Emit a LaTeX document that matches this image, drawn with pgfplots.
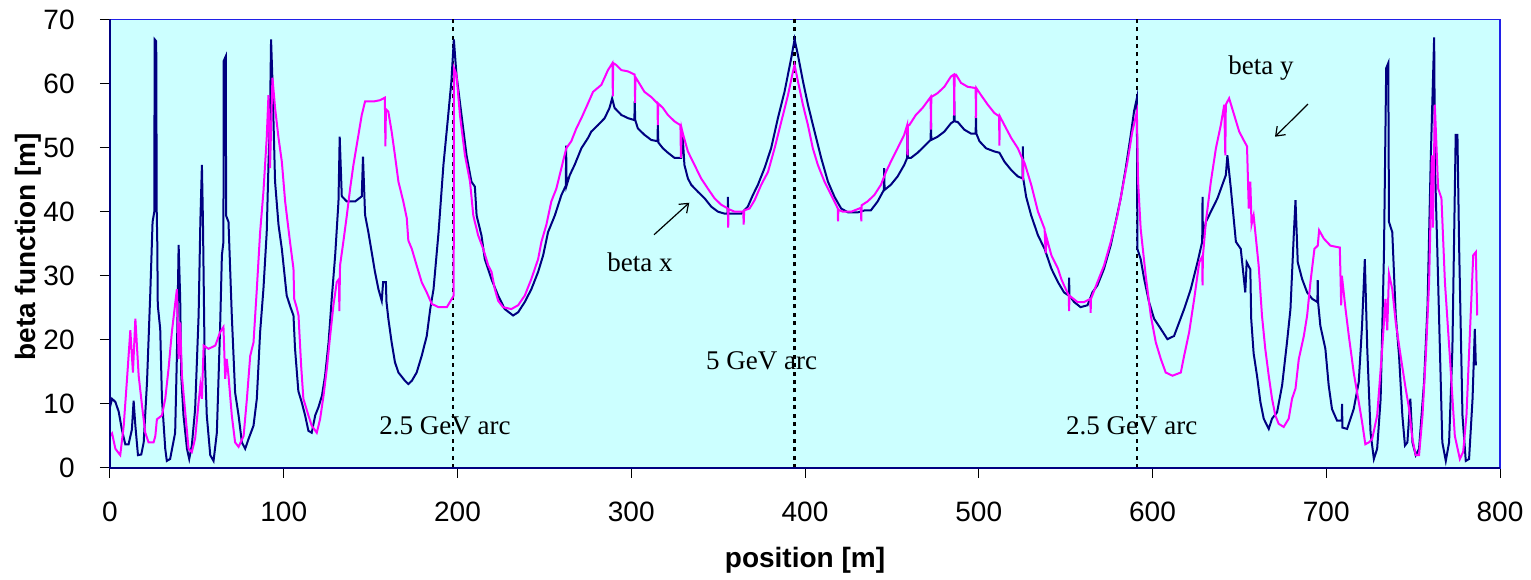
\documentclass[border=0pt]{standalone}
\usepackage{fontspec}
\setmainfont{Liberation Sans}
\newfontfamily\timesfont{Liberation Serif}
\usepackage{pgfplots}
\pgfplotsset{compat=1.18}
\usetikzlibrary{arrows.meta}

\definecolor{bgcyan}{HTML}{CCFFFF}
\definecolor{framecol}{HTML}{2020E8}
\definecolor{betax}{HTML}{000080}
\definecolor{betay}{HTML}{FF00FF}

\begin{document}
\begin{tikzpicture}
\begin{axis}[
  name=ax,
  scale only axis,
  width=695pt, height=224.25pt,
  xmin=0, xmax=800, ymin=0, ymax=70,
  xtick={0,100,...,800}, ytick={0,10,...,70},
  xtick pos=bottom, ytick pos=left,
  tick align=outside, major tick length=5pt,
  tick style={black, line width=0.5pt},
  axis background/.style={fill=bgcyan},
  axis line style={draw=framecol, line width=0.9pt},
  /pgf/number format/assume math mode=true,
  ticklabel style={font=\fontsize{14}{16}\selectfont},
  yticklabel style={inner sep=0pt, xshift=-12.5pt},
  xticklabel style={inner sep=0pt, yshift=-12pt},
  xlabel={\textbf{position [m]}},
  ylabel={\textbf{beta function [m]}},
  label style={font=\fontsize{14}{16}\selectfont},
  xlabel style={at={(axis description cs:0.5,-0.205)}, anchor=center},
  ylabel style={at={(axis description cs:-0.059,0.493)}, anchor=center},
  clip=false,
]
% arc boundaries
\addplot[black, line width=1.2pt, dash pattern=on 2pt off 2.2pt] coordinates {(197.5,0) (197.5,70)};
\addplot[black, line width=1.2pt, dash pattern=on 2pt off 2.2pt] coordinates {(394,0) (394,70)};
\addplot[black, line width=1.2pt, dash pattern=on 2pt off 2.2pt] coordinates {(591,0) (591,70)};

% beta x
\addplot[betax, line width=1pt] coordinates {
(0,9.5) (1.2,10.8) (3.1,10.3) (5,8.8) (6.9,5.9) (8.8,3.7) (10.7,3.7) (12.6,6.0) (13.6,10.5) (14.6,6.6)
(16.1,2.0) (18,2.1) (19.4,4.0) (21.3,13.4) (23.2,27.4) (24.5,38.4) (25.5,40) (25.7,66.9) (26.6,66.6) (26.9,40)
(27.2,35.3) (27.5,25.4) (28.9,21.7) (29.9,10.8) (31.8,3.0) (32.7,1.1) (34.6,1.4) (37.5,5.5) (38.5,17.5) (39.5,34.8)
(40.4,26.4) (41,14.4) (42.3,8.2) (44.3,3.0) (45.6,1.4) (47.1,3.5) (49,9.2) (51,23.8) (52,38.4) (52.9,47.3)
(53.5,38.4) (54.4,18.6) (55.7,8.2) (57.7,2.0) (59.6,1.1) (61.5,5.5) (63.4,22.2) (64.4,33.2) (65.3,35.3) (65.4,63.5)
(66.7,64.3) (66.8,39.4) (68.2,38.4) (70.1,23.8) (72,11.8) (74,8.2) (75.9,4.0) (77.8,3.0) (79.7,4.5) (82.6,6.6)
(84.5,10.8) (86.4,21.2) (88.3,27.9) (90.2,36.8) (91.2,47.3) (92.1,55.1) (92.7,66.9) (93.5,60.4) (95.0,44.7) (97.0,37.9)
(98.9,34.2) (101.7,26.9) (104,25) (105.6,23.8) (106.5,18.6) (108.4,12) (110.3,10.3) (112.3,8.2) (114.2,5.8) (116.1,5.5)
(118.1,8.2) (120,9.5) (122,11.3) (123.8,14.4) (125.8,19.6) (127.6,26.4) (129.6,33.2) (131.5,41.6) (132.2,51.7) (133.4,42.4)
(136.3,41.6) (141.1,41.6) (144.9,42.4) (145.6,48.6) (146.8,39.5) (148.7,36.8) (150.6,33.7) (152.5,30.6) (154.5,27.9) (156.4,26.1)
(157.2,29) (158.8,29) (159.1,26) (160.2,23.3) (162.1,19.6) (164.0,16.5) (166,14.9) (169.8,13.6) (171.7,13.1) (173.7,13.6)
(176.5,14.9) (179.4,17.5) (182.3,20.6) (184.3,24.8) (186.2,27.9) (189.1,36.8) (191.9,47.3) (194.5,54.6) (196.5,60.4) (197.9,66.9)
(199.4,61.4) (202.3,55.1) (205.2,48.8) (208.0,44.7) (210.0,43.9) (211,39.4) (213.8,36.3) (215.7,32.6) (219.5,29.5) (223.4,26.9)
(227.2,24.8) (232,23.8) (234.9,24.3) (238.7,25.9) (242.5,27.9) (246.4,30.6) (249.3,33.2) (252.1,36.8) (256.0,39.4) (259.8,42.6)
(262.4,44.1) (262.5,50.3) (262.8,44.1) (264.6,45.7) (267.4,47.3) (271.3,49.9) (275.1,51.5) (277.0,52.5) (280.8,53.5) (284.7,54.6)
(287.5,56.2) (289.0,57.7) (290.4,56.2) (294.3,55.1) (298.1,54.6) (301.8,54.3) (302,57.2) (302.3,54.3) (303.8,53.0) (307.6,52.0)
(311.5,51.2) (315.1,51.0) (315.3,53.5) (315.6,50.8) (318.2,49.9) (321.1,49.2) (324.9,48.4) (328.7,48.4) (329.5,52.2) (330.6,47.3)
(332.6,45.2) (334.5,44.2) (338.4,43.1) (342.2,42.1) (346,40.8) (349.9,40.0) (353.7,39.7) (355.5,39.7) (355.6,42.3) (355.8,39.7)
(359.5,39.7) (363.3,39.7) (367.1,40.8) (370,42.6) (372.9,44.2) (376.7,46.8) (380.5,49.9) (384.4,54.6) (388.2,58.7) (392.1,64.0)
(394,66.9) (395.9,64.5) (398.8,60.4) (401.7,56.7) (405.5,52.5) (409.3,48.4) (413.2,44.7) (417,42.3) (420.8,40.5) (424.7,39.9)
(430.5,39.9) (434.3,40.2) (437.9,40.2) (441.8,41.6) (445.4,43.4) (445.6,46.8) (445.8,43.4) (449.4,44.2) (453.3,45.5) (457.1,47.3)
(458.8,48.4) (459,52.5) (459.2,48.4) (461,48.4) (464.8,49.2) (468.6,50.2) (472.3,51.2) (472.5,54.1) (472.7,51.2) (476.3,51.7)
(480.2,52.5) (484,53.8) (485.7,54.1) (485.9,57.2) (486.1,54.1) (487.9,54) (491.7,52.8) (495.5,52.2) (498.2,52.2) (498.4,54.9)
(498.6,52.2) (500.4,51.0) (504.2,49.9) (509,49.4) (511.9,49.2) (514.8,47.8) (518.7,46.5) (522.5,45.5) (525.2,45.2) (525.4,50.2)
(525.6,45.2) (527.3,42.3) (530.2,39.4) (534.1,36.3) (537.9,34.2) (541.8,31.1) (545.6,29.0) (549.1,27.4) (551.8,26.9) (552,29.7)
(552.2,26.9) (554.9,25.9) (558.6,25.1) (562.6,25.4) (565.4,27.4) (568.3,28.5) (572.1,31.1) (576,34.8) (578.8,38.4) (581.7,42.1)
(584.6,46.8) (587.5,52.0) (589.4,55.7) (591,57.7) (591.3,34.2) (593.2,32.6) (595.2,29.5) (598.0,25.9) (600.9,23.3) (604.8,21.7)
(608.6,20.1) (612.4,20.6) (615.3,22.7) (618.2,24.8) (622,27.9) (625.9,32.1) (628.6,35.3) (628.8,42.3) (629,35.8) (630.7,38.4)
(633.6,40) (637.4,42.1) (640.2,44.2) (642.2,45.7) (643.1,48.8) (645.1,43.6) (648.0,35.3) (650.8,34.2) (653.4,27.4) (654.2,32.1)
(656.3,31) (656.8,23.3) (658.2,17.9) (660.2,14.3) (662.1,10.3) (664.0,7.7) (666.9,6.1) (668.8,7.7) (671.7,8.7) (674.6,12.9)
(677.4,19.6) (679.4,24.8) (681.3,36.3) (682.3,41.8) (683.6,32.1) (686.1,29.5) (689.0,27.4) (691.9,26.4) (694.9,25.9) (695.1,29.3)
(695.3,25.9) (696.6,22.2) (699.5,18.6) (701.4,12.9) (703.3,9.2) (706.2,7.4) (708.9,7.4) (709.1,10) (709.3,6.3) (712,6.1)
(715.8,9.2) (718.7,13.4) (720.6,22.2) (722.2,32.6) (723.6,18.6) (725.5,5.5) (727.4,1.4) (729.3,3.0) (731.3,10.8) (733.2,33.2)
(734.5,62.4) (735.7,63.2) (736.1,38.4) (738,36.8) (740,23.8) (741.9,17.5) (743.8,8.2) (745.3,3.5) (746.7,4.0) (748.4,10.8)
(749.6,4) (751.5,2.0) (753.4,3.0) (756.3,13.4) (758.3,25.4) (760.2,48.8) (762.1,67.2) (762.6,47) (763.9,34.2) (765.9,13.4)
(766.8,4.0) (768.8,1.1) (770.7,4.0) (772.6,18.6) (774.5,52.0) (775.5,52.0) (776.5,34.2) (778.4,8.2) (780.3,1.1) (782.2,1.4)
(784.2,10.8) (785.5,21.7) (786.1,16.0)
};

% beta y
\addplot[betay, line width=1pt] coordinates {
(0,5) (1.2,5.4) (3.1,3.0) (5.9,2.0) (7.9,6.6) (9.8,13.9) (11.7,21.5) (13.2,14.9) (14.6,23.3) (16.5,14.4)
(18.4,9.8) (20.3,5.5) (22.2,4.0) (25.1,4.0) (26.1,5.0) (27.0,7.6) (29.9,8.2) (31.8,10.8) (33.7,15.5) (35.6,21.2)
(38.5,27.9) (39.5,17.0) (40.4,22.7) (41.4,14.4) (43.3,8.7) (45.2,3.0) (47.1,2.5) (49,4.6) (51,10.3) (52,12.9)
(52.9,10.8) (53.9,19.1) (56.7,18.6) (60.6,19.1) (63.4,21.2) (65.3,22.0) (66.3,13.9) (67.2,17.0) (68.2,14.4) (70.1,8.2)
(72,4.0) (74,3.3) (76.9,5.0) (78.8,10.8) (80.7,17.5) (82.6,19.6) (84.5,27.9) (86.4,36.8) (88.3,43.1) (90.2,51.5)
(91.2,58.2) (92.1,46.8) (93.5,60.9) (95.0,56.2) (97.0,51.5) (98.9,47.8) (100.8,41.6) (103.6,35.3) (105.6,31.1) (106,26.4)
(107.5,25) (108.5,23.8) (110,16.0) (111.3,10.8) (114.2,8.2) (116.1,6.6) (119.0,5.5) (120.9,7.6) (122.9,11.3) (124.8,15.5)
(126.7,20.6) (128.6,25.4) (130.5,29.0) (131.8,29.5) (132,24.5) (132.4,31.6) (134.3,35.3) (136.3,39.4) (138.2,43.6) (140.1,47.3)
(143.0,52.0) (144.9,55.1) (146.8,57.2) (151.6,57.2) (155.4,57.4) (158.2,57.8) (158.5,50.2) (158.8,56) (160.2,55.6) (162.1,52.5)
(164.0,48.8) (166.0,44.7) (168.8,41.6) (170.8,39.0) (171.7,35.5) (173.7,34.2) (176.5,31.6) (179.4,29.0) (182.3,27.4) (185.2,25.6)
(189.1,25.1) (193.9,25.1) (197.8,26.9) (198.0,62.4) (199.4,61.4) (201.4,55.1) (204.3,48.8) (207.2,44.7) (209.1,39.4) (211.9,36.3)
(214.8,34.2) (216.6,32.6) (217.7,31.6) (219.6,30.6) (221.5,27.9) (223.4,26.1) (226.2,25.1) (231.0,24.8) (234.9,25.4) (238.7,26.9)
(242.5,29.5) (246.4,32.6) (248.3,35.3) (251.1,37.9) (254.0,41.6) (256.9,43.6) (260.7,47.8) (262.6,49.9) (265.5,51.0) (268.4,53.0)
(271.3,54.6) (275.1,56.9) (278.0,58.7) (282.8,59.8) (286.6,62.1) (289.2,63.2) (289.4,58) (289.6,63.2) (291.4,62.9) (294.3,62.1)
(298.1,61.9) (302.0,61.4) (302.2,57) (302.4,61) (303.8,60.4) (307.6,58.7) (311.5,57.9) (315.1,56.9) (315.3,53.5) (315.5,56.9)
(318.2,56.2) (321.1,55.1) (324.9,54.1) (328.3,53.5) (328.6,48.4) (329,53) (329.7,52.2) (332.6,49.4) (336.4,47.3) (340.2,45.2)
(344.1,43.6) (347.9,42.1) (351.7,41.1) (355.6,40.5) (355.8,37.5) (356,40.4) (359.5,40.0) (363.3,40.0) (364.5,40) (364.7,38)
(365,40.2) (368.1,40.5) (371.0,41.8) (374.8,44.2) (378.7,46.2) (382.5,49.9) (386.4,54.1) (390.2,58.2) (393.1,61.9) (394,62.9)
(395.9,60.4) (398.8,56.7) (401.7,53.5) (404.5,49.9) (407.4,47.3) (411.2,44.7) (415.1,42.6) (418.9,40.5) (419,38.5) (419.2,40.3)
(421.8,40.0) (426.6,40.0) (432.2,40.6) (432.4,38.5) (432.6,41) (436.0,41.6) (439.9,42.6) (443.7,44.2) (446.6,46.2) (449.4,47.8)
(453.3,49.9) (457.1,52.0) (458.8,53.5) (459,48.8) (459.2,53.5) (460.0,53.5) (463.8,55.1) (467.7,56.2) (472.3,57.9) (472.5,52.8)
(472.7,57.9) (476.3,58.5) (480.2,59.5) (484,61.1) (485.7,61.4) (485.9,55) (486.1,61.4) (486.9,61.4) (489.8,60.1) (493.6,59.5)
(498.2,59.3) (498.4,54.6) (498.6,59.3) (501.3,58.2) (505.2,56.7) (509.0,55.4) (511.7,54.9) (511.9,50.3) (512.1,54.9) (514.8,53.5)
(518.7,51.5) (522.5,49.9) (525.2,48.2) (525.4,44.9) (525.6,48) (526.4,47.6) (530.2,44.2) (534.1,40.0) (537.9,37.3) (538.5,33.5)
(539,36) (541.8,33.2) (545.6,31.1) (547.5,29.5) (549.1,28.5) (551.8,26.9) (552,24.5) (552.2,26.9) (556.8,25.9) (560.6,25.9)
(564.2,26.4) (564.4,24.2) (564.6,26.4) (568.3,29.0) (572.1,31.6) (576,35.3) (579.8,39.4) (582.7,43.6) (585.6,47.8) (588.4,52.5)
(591.0,55.6) (591.7,44.7) (593.2,37.3) (596.1,30.0) (599.0,23.8) (601.9,19.6) (604.8,17.0) (607.6,14.9) (611.5,14.4) (616.3,14.9)
(618.2,17.5) (621.1,21.2) (624,26.4) (626.9,32.1) (628.6,33) (628.8,28.5) (629,33) (630.7,38.4) (633.6,44.7) (636.5,49.9)
(639.3,53.5) (641.3,56.7) (641.9,48.8) (642.2,56.7) (644.1,57.7) (647.0,55.1) (649.9,52.5) (652.8,51.0) (654.4,50.2) (655.4,40.5)
(656.3,44.7) (657,38) (658.2,39.4) (661.1,31.6) (663.0,23.8) (664.9,18.6) (666.9,14.4) (668.8,10.8) (670.7,8.2) (672.6,6.9)
(675.5,6.4) (678.4,7.7) (680.3,10.8) (682.3,12.4) (684.2,17.0) (687.1,20.6) (689.0,23.8) (690.9,29.0) (693.2,34.2) (695.1,34.7)
(695.9,37.1) (698.6,35.8) (702.4,34.7) (707.8,34.4) (708.6,25.4) (709,30) (711.1,24.8) (713.0,20.6) (715.8,14.9) (718.7,10.3)
(720.6,7.2) (722.5,3.7) (724.5,4.0) (726.4,4.5) (729.3,8.2) (732.2,18.6) (734.1,26.4) (735.1,21.5) (736.1,30.3) (738,27.9)
(740,22.7) (742.8,17.5) (745.7,12.4) (747.7,9.2) (749.6,4.5) (751.5,2.0) (753.4,2.0) (755.4,8.2) (757.3,17.5) (759.2,29.0)
(760.8,48.8) (761.4,37.5) (762.5,56.7) (764.4,43.6) (766.3,42.1) (768.3,29.0) (771.1,17.5) (774.0,5.0) (776.9,1.4) (778.8,2.5)
(780.7,8.2) (782.7,21.2) (784.6,33.2) (786.1,33.7) (786.9,23.8)
};

% annotations
\node[font=\timesfont\fontsize{13.5}{15}\selectfont, anchor=base] at (axis cs:305,30.6) {beta x};
\node[font=\timesfont\fontsize{13.5}{15}\selectfont, anchor=base] at (axis cs:662.5,61.4) {beta y};
\node[font=\timesfont\fontsize{13.5}{15}\selectfont, anchor=base] at (axis cs:192.8,5.15) {2.5 GeV arc};
\node[font=\timesfont\fontsize{13.5}{15}\selectfont, anchor=base] at (axis cs:375,15.3) {5 GeV arc};
\node[font=\timesfont\fontsize{13.5}{15}\selectfont, anchor=base] at (axis cs:588,5.15) {2.5 GeV arc};
\draw[black, line width=0.6pt, -{Straight Barb[length=4pt,width=6pt]}] (axis cs:313.1,36.4) -- (axis cs:333.4,41.4);
\draw[black, line width=0.6pt, -{Straight Barb[length=4pt,width=6pt]}] (axis cs:689.5,56.8) -- (axis cs:670.5,51.7);
\draw[betax, line width=0.9pt] (rel axis cs:0,1) -- (rel axis cs:0,0) -- (rel axis cs:1,0);
\end{axis}
\path (ax.south west) ++(-55pt,-55pt) coordinate (bbl);
\path (ax.north east) ++(15.5pt,9.75pt) coordinate (bur);
\path (bbl) rectangle (bur);
\end{tikzpicture}
\end{document}
